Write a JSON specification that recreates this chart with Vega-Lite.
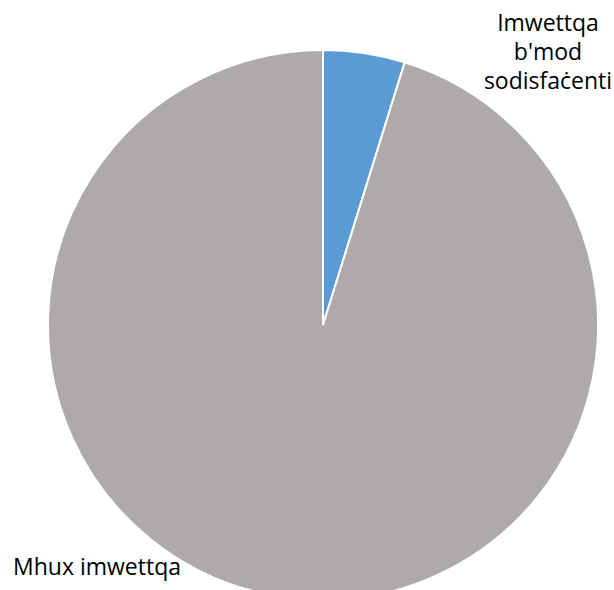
{
  "$schema": "https://vega.github.io/schema/vega-lite/v6.json",
  "width": 646,
  "height": 650,
  "padding": 0,
  "autosize": {"type": "none"},
  "background": "white",
  "config": {"view": {"stroke": null}},
  "data": {"values": [
    {"category": "Imwettqa b'mod sodisfaċenti", "label": "Imwettqa\nb'mod\nsodisfaċenti", "value": 4.8},
    {"category": "Mhux imwettqa", "label": "Mhux imwettqa", "value": 95.2}
  ]},
  "encoding": {
    "theta": {"field": "value", "type": "quantitative", "stack": true},
    "color": {"field": "category", "type": "nominal", "legend": null,
      "scale": {"domain": ["Imwettqa b'mod sodisfaċenti", "Mhux imwettqa"], "range": ["#5B9BD5", "#AEAAAA"]}}
  },
  "layer": [
    {"mark": {"type": "arc", "radius": 275, "stroke": "white", "strokeWidth": 2}},
    {
      "transform": [{"filter": "datum.category === 'Mhux imwettqa'"}],
      "mark": {"type": "text", "radius": 0, "dx": -226, "dy": 243, "font": "Open Sans", "fontSize": 23, "align": "center", "baseline": "middle"},
      "encoding": {"text": {"field": "label"}, "color": {"value": "#000000"}}
    },
    {
      "transform": [{"filter": "datum.category !== 'Mhux imwettqa'"}],
      "mark": {"type": "text", "radius": 0, "dx": 225, "dy": -301, "font": "Open Sans", "fontSize": 23, "lineBreak": "\n", "lineHeight": 29, "align": "center", "baseline": "middle"},
      "encoding": {"text": {"field": "label"}, "color": {"value": "#000000"}}
    }
  ]
}
